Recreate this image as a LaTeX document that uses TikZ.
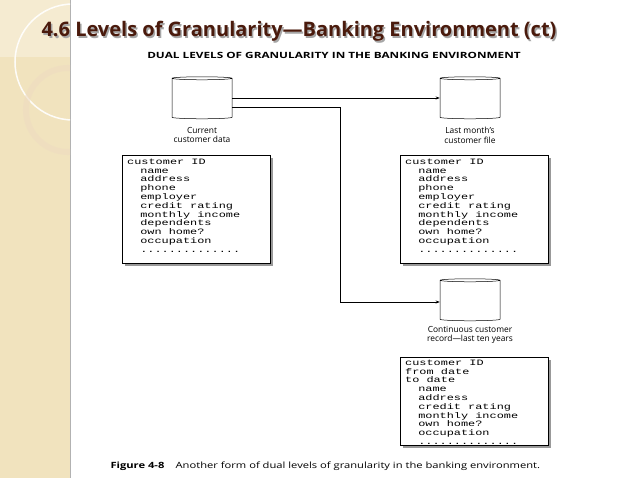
\documentclass[tikz,border=0pt]{standalone}
\usepackage{fontspec}
\setmainfont{Open Sans}
\setmonofont{Liberation Mono}
\newfontfamily\titlefont{Open Sans}
\usetikzlibrary{shapes.geometric,arrows.meta}
\definecolor{strip}{HTML}{F1E3BE}
\definecolor{titlebrown}{HTML}{4A1A0C}
\newcommand{\recbody}[1]{\scalebox{1.45}[1]{\ttfamily\fontsize{8.2}{8.8}\selectfont\begin{tabular}{@{}l@{}}#1\end{tabular}}}
\newcommand{\ind}{\hspace*{1.1em}}
\begin{document}
\begin{tikzpicture}[x=1pt,y=-1pt,
  db/.style={cylinder,shape border rotate=90,draw,line width=0.5pt,minimum width=60pt,minimum height=42pt,aspect=0.45,fill=white},
  lbl/.style={font=\fontsize{8.4}{9.8}\selectfont,align=center},
  rec/.style={draw,line width=0.6pt,fill=white,anchor=north west,inner sep=0pt,minimum width=148pt},
  conn/.style={line width=0.5pt},
  tip/.style={-{Stealth[length=4pt,width=3pt]}}]
\useasboundingbox (0,0) rectangle (638,478);
\fill[white] (0,0) rectangle (638,478);
\fill[strip] (0,0) rectangle (70,478);
\draw[black!30,line width=0.6pt] (70,0) -- (70,478);
\begin{scope}
\clip (0,0) rectangle (70,478);
\fill[white,opacity=0.3] (0,0) rectangle (70,57);
\draw[white,line width=1.5pt,opacity=0.9] (73,62) circle (58);
\draw[strip!70!brown!60!white,line width=6pt,opacity=0.6] (68,110) circle (42);
\end{scope}
% title
\node[anchor=base west,text=black!35,font=\titlefont\bfseries\fontsize{20}{22}\selectfont] at (39.5,38.5) {4.6 Levels of Granularity—Banking Environment (ct)};
\node[anchor=base west,text=titlebrown,font=\titlefont\bfseries\fontsize{20}{22}\selectfont] (title) at (38,37) {4.6 Levels of Granularity—Banking Environment (ct)};
\node[font=\bfseries\fontsize{8.6}{10}\selectfont] (sub) at (334,55) {\scalebox{1.37}[1]{DUAL LEVELS OF GRANULARITY IN THE BANKING ENVIRONMENT}};
% databases
\node[db] (cur) at (202,99) {};
\node[db] (last) at (470,99) {};
\node[db] (cont) at (470,301) {};
\node[lbl] (curl) at (202,135) {Current\\customer data};
\node[lbl] (lastl) at (470,135) {Last month's\\customer file};
\node[lbl] (contl) at (470,335) {Continuous customer\\record—last ten years};
% connectors
\coordinate (j1) at (232,107);
\coordinate (j2) at (340,107);
\coordinate (j3) at (340,302);
\draw[conn,tip] (cur.east |- 0,98) -- (last.west |- 0,98);
\draw[conn,tip] (cur.east |- j1) -- (j2) -- (j3) -- (cont.west |- j3);
% records
\fill[black!40] (125,158) rectangle (273,266);
\node[rec,minimum height=108pt] (r1) at (122,155) {};
\node[anchor=north west,inner sep=0pt] (t1) at (127,158) {\recbody{customer ID\\\ind name\\\ind address\\\ind phone\\\ind employer\\\ind credit rating\\\ind monthly income\\\ind dependents\\\ind own home?\\\ind occupation\\\ind ..............}};
\fill[black!40] (403,158) rectangle (551,266);
\node[rec,minimum height=108pt] (r2) at (400,155) {};
\node[anchor=north west,inner sep=0pt] (t2) at (405,158) {\recbody{customer ID\\\ind name\\\ind address\\\ind phone\\\ind employer\\\ind credit rating\\\ind monthly income\\\ind dependents\\\ind own home?\\\ind occupation\\\ind ..............}};
\fill[black!40] (403,360) rectangle (551,448);
\node[rec,minimum height=88pt] (r3) at (400,357) {};
\node[anchor=north west,inner sep=0pt] (t3) at (405,359) {\recbody{customer ID\\from date\\to date\\\ind name\\\ind address\\\ind credit rating\\\ind monthly income\\\ind own home?\\\ind occupation\\\ind ..............}};
\node[anchor=base west,font=\fontsize{8.6}{9}\selectfont] (cap) at (107,469) {\scalebox{1.3}[1]{\textbf{Figure 4-8}\quad Another form of dual levels of granularity in the banking environment.}};
\end{tikzpicture}
\end{document}
